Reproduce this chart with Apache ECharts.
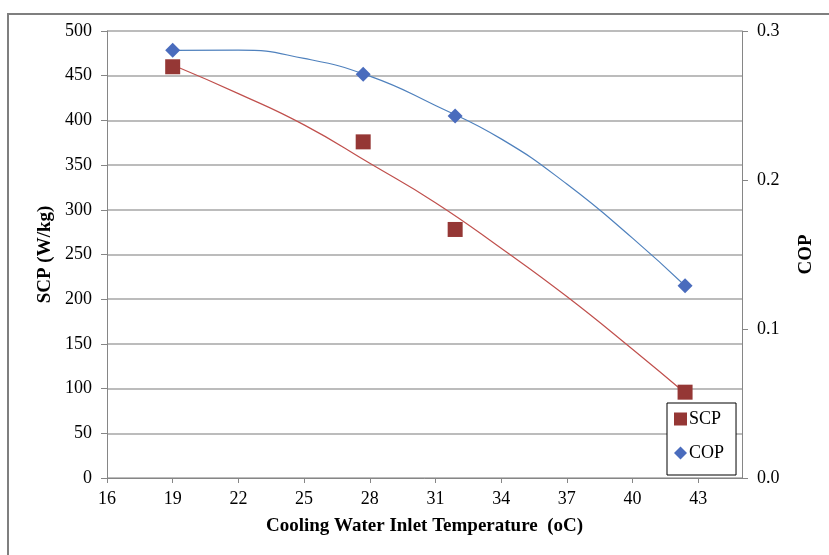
<!DOCTYPE html>
<html>
<head>
<meta charset="utf-8">
<script src="https://cdn.jsdelivr.net/npm/echarts@6/dist/echarts.min.js"></script>
<style>
  html, body { margin: 0; padding: 0; background: #fff; }
  #chart { width: 829px; height: 555px; }
</style>
</head>
<body>
<div id="chart"></div>
<script>
    // measured points
    var tempData = [19, 27.7, 31.9, 42.4];
    var scpData = [460, 376, 278, 96];
    var copData = [0.287, 0.271, 0.243, 0.129];

    // trendlines
    var trendX = [19, 22, 25, 28, 31, 34, 37, 40, 42.4];
    var scpTrend = [462, 430, 395, 352, 308, 257, 203, 144, 95];
    var copTrend = [0.287, 0.2872, 0.2816, 0.2697, 0.250, 0.2276, 0.1973, 0.161, 0.129];

    var seriesNames = ['SCP', 'COP'];

    function pairs(xs, ys) {
        var res = [];
        for (var i = 0; i < xs.length; i++) {
            res.push([xs[i], ys[i]]);
        }
        return res;
    }

    var font = 'Liberation Serif';
    var gridColor = '#a6a6a6';
    var axisColor = '#868686';

    var chart = echarts.init(document.getElementById('chart'));
    var option = {
        backgroundColor: '#fff',
        animation: false,
        textStyle: { fontFamily: font, color: '#000' },
        graphic: [{
            type: 'rect',
            shape: { x: 8, y: 14, width: 840, height: 560 },
            style: { fill: 'none', stroke: '#7f7f7f', lineWidth: 2 },
            silent: true
        }],
        grid: {
            left: 107,
            right: 87,
            top: 31,
            bottom: 77
        },
        legend: {
            orient: 'vertical',
            left: 667,
            top: 403,
            padding: [7, 12, 13, 7],
            itemGap: 16,
            itemWidth: 13,
            itemHeight: 13,
            backgroundColor: '#fff',
            borderColor: '#000',
            borderWidth: 1,
            textStyle: { fontFamily: font, fontSize: 18, color: '#000', padding: [0, 0, 0, -3] },
            data: [
                { name: seriesNames[0], icon: 'rect' },
                { name: seriesNames[1], icon: 'diamond' }
            ]
        },
        xAxis: {
            type: 'value',
            min: 16,
            max: 45,
            interval: 3,
            name: 'Cooling Water Inlet Temperature  (oC)',
            nameLocation: 'middle',
            nameGap: 39,
            nameTextStyle: { fontFamily: font, fontSize: 19, fontWeight: 'bold', color: '#000' },
            axisLine: { show: true, onZero: false, lineStyle: { color: axisColor } },
            axisTick: { show: true, length: 5, lineStyle: { color: axisColor } },
            axisLabel: { fontFamily: font, fontSize: 18, color: '#000', margin: 12, showMaxLabel: false },
            splitLine: { show: false }
        },
        yAxis: [
            {
                type: 'value',
                min: 0,
                max: 500,
                interval: 50,
                name: 'SCP (W/kg)',
                nameLocation: 'middle',
                nameGap: 51,
                nameRotate: 90,
                nameTextStyle: { fontFamily: font, fontSize: 19, fontWeight: 'bold', color: '#000' },
                axisLine: { show: true, lineStyle: { color: axisColor } },
                axisTick: { show: true, length: 6, lineStyle: { color: axisColor } },
                axisLabel: { fontFamily: font, fontSize: 18, color: '#000', margin: 15 },
                splitLine: { show: true, lineStyle: { color: gridColor, width: 1.5 } }
            },
            {
                type: 'value',
                position: 'right',
                min: 0,
                max: 0.3,
                interval: 0.1,
                name: 'COP',
                nameLocation: 'middle',
                nameGap: 55,
                nameRotate: 90,
                nameTextStyle: { fontFamily: font, fontSize: 19, fontWeight: 'bold', color: '#000' },
                axisLine: { show: true, lineStyle: { color: axisColor } },
                axisTick: { show: true, length: 6, lineStyle: { color: axisColor } },
                axisLabel: {
                    fontFamily: font, fontSize: 18, color: '#000', margin: 15,
                    formatter: function (v) { return v.toFixed(1); }
                },
                splitLine: { show: false }
            }
        ],
        series: [
            {
                name: 'SCP trend',
                type: 'line',
                yAxisIndex: 0,
                data: pairs(trendX, scpTrend),
                smooth: 0.5,
                showSymbol: false,
                silent: true,
                z: 1,
                lineStyle: { color: '#c0504d', width: 1.2 }
            },
            {
                name: 'COP trend',
                type: 'line',
                yAxisIndex: 1,
                data: pairs(trendX, copTrend),
                smooth: 0.5,
                showSymbol: false,
                silent: true,
                z: 1,
                lineStyle: { color: '#4f81bd', width: 1.2 }
            },
            {
                name: seriesNames[0],
                type: 'scatter',
                yAxisIndex: 0,
                symbol: 'rect',
                symbolSize: 15,
                z: 3,
                itemStyle: { color: '#953735', opacity: 1 },
                data: pairs(tempData, scpData)
            },
            {
                name: seriesNames[1],
                type: 'scatter',
                yAxisIndex: 1,
                symbol: 'diamond',
                symbolSize: [15, 15],
                z: 3,
                itemStyle: { color: '#4a6cbd', opacity: 1 },
                data: pairs(tempData, copData)
            }
        ]
    };
    chart.setOption(option);
</script>
</body>
</html>
